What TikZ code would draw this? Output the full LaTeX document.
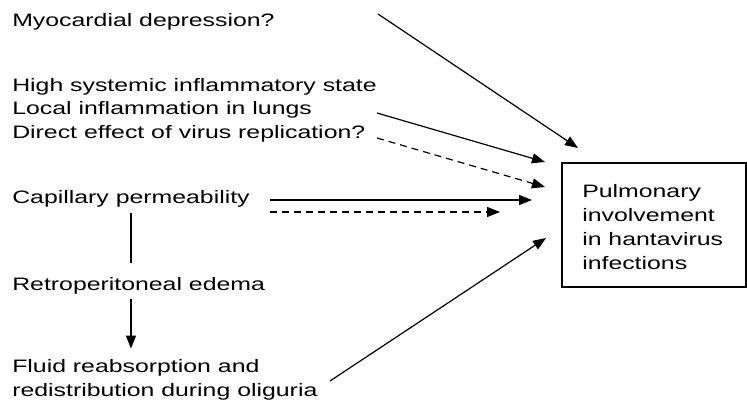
\documentclass[tikz,border=0pt]{standalone}
\usepackage{fontspec}
\setmainfont[FakeStretch=1.38]{Liberation Sans}
\usetikzlibrary{positioning,arrows.meta}

\begin{document}
\begin{tikzpicture}[x=0.75pt,y=-0.75pt,
  txt/.style={anchor=base west, inner sep=0pt, align=left, font=\fontsize{13.5}{17.6}\selectfont},
  box/.style={draw, line width=0.9pt, minimum width=138pt, minimum height=93pt},
  boxtxt/.style={txt, font=\fontsize{13.5}{18}\selectfont},
  arrow/.style={-{Triangle[length=9.75pt,width=7.5pt]}, line width=0.9pt},
  dasharrow/.style={arrow, dash pattern=on 5.25pt off 3.75pt}
]
\useasboundingbox (0,0) rectangle (747,412);

\node[txt] (myo) at (12,26) {Myocardial depression?};
\node[txt] (systemic) at (12,91) {High systemic inflammatory state};
\node[txt] (lungs) at (12,114.5) {Local inflammation in lungs};
\node[txt] (virus) at (12,138) {Direct effect of virus replication?};
\node[txt] (capillary) at (12,203) {Capillary permeability};
\node[txt] (retro) at (12,290.5) {Retroperitoneal edema};
\node[txt] (fluid) at (12,396) {Fluid reabsorption and\\redistribution during oliguria};
\node[box] (pulm) at (654,225) {};
\node[boxtxt] (pulmtxt) at (582,269) {Pulmonary\\involvement\\in hantavirus\\infections};

% ends of the arrows
\coordinate (myo-out) at (378,14);
\coordinate (lungs-out) at (377,113);
\coordinate (virus-out) at (377,138);
\coordinate (cap-out) at (270,200);
\coordinate (cap-dash) at (270,212);
\coordinate (fluid-out) at (330,381);
\coordinate (pulm-in1) at (578,148);
\coordinate (pulm-in2) at (545,162);
\coordinate (pulm-in3) at (545,187);
\coordinate (pulm-in4) at (532,200);
\coordinate (pulm-in5) at (500,212);
\coordinate (pulm-in6) at (546,238);

\draw[arrow] (myo-out) -- (pulm-in1);
\draw[arrow] (lungs-out) -- (pulm-in2);
\draw[dasharrow] (virus-out) -- (pulm-in3);
\draw[arrow] (cap-out) -- (pulm-in4);
\draw[dasharrow] (cap-dash) -- (pulm-in5);
\draw[arrow] (fluid-out) -- (pulm-in6);

\draw[line width=0.9pt] ([yshift=-4.5pt]capillary.south) -- ([yshift=10.5pt]capillary.south |- retro.north);
\draw[arrow] ([yshift=-3pt]capillary.south |- retro.south) -- ([yshift=8pt]capillary.south |- fluid.north);
\end{tikzpicture}
\end{document}
